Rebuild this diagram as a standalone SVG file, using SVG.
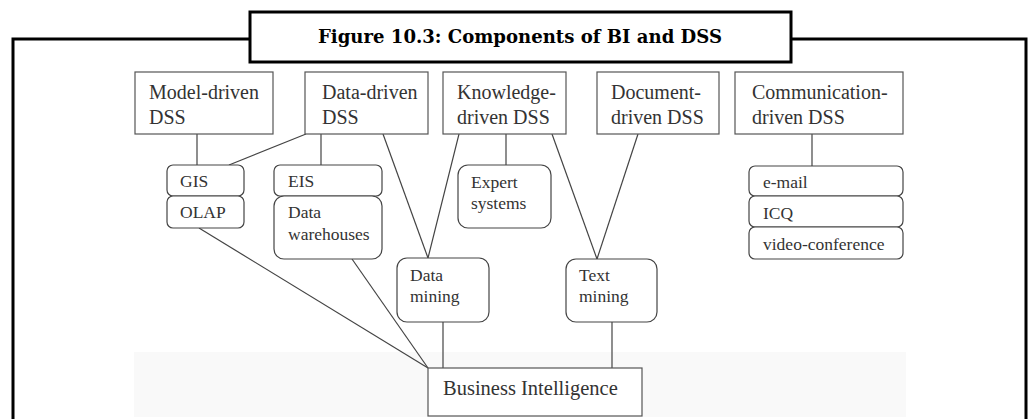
<svg xmlns="http://www.w3.org/2000/svg" width="1030" height="419" viewBox="0 0 1030 419">
<style>
.frame{fill:none;stroke:#000;stroke-width:3}
.box{fill:#fff;stroke:#555;stroke-width:1.2}
.rbox{fill:#fff;stroke:#444;stroke-width:1.2}
.t{font-family:"Liberation Serif","Times New Roman",serif;fill:#333}
.top{font-size:20px}
.sub{font-size:17.5px}
.bi{font-size:20.5px}
.title{font-family:"DejaVu Serif","Liberation Serif",serif;font-weight:bold;font-size:18px;fill:#000}
#connectors line{stroke:#444;stroke-width:1.2}
</style>
<rect x="0" y="0" width="1030" height="419" fill="#fff"/>
<rect x="134" y="352" width="772" height="65" fill="#f9f9f9"/>
<g id="frame">
<polyline class="frame" points="13,419 13,39 250,39"/>
<polyline class="frame" points="791,39 1026,39 1026,419"/>
</g>
<g id="title">
<rect class="frame" x="250" y="12" width="541" height="50" fill="#fff"/>
<text class="title" x="318" y="43" textLength="404" lengthAdjust="spacingAndGlyphs">Figure 10.3: Components of BI and DSS</text>
</g>
<g id="connectors">
<line x1="197" y1="134" x2="197" y2="165"/>
<line x1="306" y1="134" x2="229" y2="165"/>
<line x1="321" y1="134" x2="321" y2="165"/>
<line x1="383" y1="134" x2="428" y2="258"/>
<line x1="459" y1="134" x2="428" y2="258"/>
<line x1="506" y1="134" x2="506" y2="165"/>
<line x1="552" y1="134" x2="597" y2="259"/>
<line x1="638" y1="134" x2="597" y2="259"/>
<line x1="812" y1="134" x2="812" y2="166"/>
<line x1="199" y1="228" x2="428" y2="368"/>
<line x1="352" y1="259" x2="428" y2="368"/>
<line x1="443" y1="322" x2="443" y2="368"/>
<line x1="612" y1="322" x2="612" y2="368"/>
</g>
<g id="model-driven">
<rect class="box" x="135" y="72" width="138" height="62"/>
<text class="t top" x="149" y="99">Model-driven</text>
<text class="t top" x="149" y="124">DSS</text>
</g>
<g id="data-driven">
<rect class="box" x="305" y="72" width="123" height="62"/>
<text class="t top" x="322" y="99">Data-driven</text>
<text class="t top" x="322" y="124">DSS</text>
</g>
<g id="knowledge-driven">
<rect class="box" x="443" y="72" width="123" height="62"/>
<text class="t top" x="457" y="99">Knowledge-</text>
<text class="t top" x="457" y="124">driven DSS</text>
</g>
<g id="document-driven">
<rect class="box" x="597" y="72" width="122" height="62"/>
<text class="t top" x="611" y="99">Document-</text>
<text class="t top" x="611" y="124">driven DSS</text>
</g>
<g id="communication-driven">
<rect class="box" x="735" y="72" width="168" height="62"/>
<text class="t top" x="752" y="99">Communication-</text>
<text class="t top" x="752" y="124">driven DSS</text>
</g>
<g id="gis">
<rect class="rbox" x="167" y="165" width="77" height="31" rx="6"/>
<text class="t sub" x="180" y="187">GIS</text>
</g>
<g id="olap">
<rect class="rbox" x="167" y="196" width="77" height="32" rx="6"/>
<text class="t sub" x="180" y="218">OLAP</text>
</g>
<g id="eis">
<rect class="rbox" x="274" y="165" width="108" height="31" rx="6"/>
<text class="t sub" x="288" y="187">EIS</text>
</g>
<g id="data-warehouses">
<rect class="rbox" x="274" y="196" width="108" height="63" rx="10"/>
<text class="t sub" x="288" y="218">Data</text>
<text class="t sub" x="288" y="240">warehouses</text>
</g>
<g id="expert-systems">
<rect class="rbox" x="458" y="165" width="93" height="63" rx="10"/>
<text class="t sub" x="471" y="188">Expert</text>
<text class="t sub" x="471" y="209">systems</text>
</g>
<g id="e-mail">
<rect class="rbox" x="749" y="166" width="154" height="30" rx="6"/>
<text class="t sub" x="763" y="188">e-mail</text>
</g>
<g id="icq">
<rect class="rbox" x="749" y="196" width="154" height="31" rx="6"/>
<text class="t sub" x="763" y="219">ICQ</text>
</g>
<g id="video-conference">
<rect class="rbox" x="749" y="227" width="154" height="32" rx="6"/>
<text class="t sub" x="763" y="250">video-conference</text>
</g>
<g id="data-mining">
<rect class="rbox" x="397" y="258" width="92" height="64" rx="10"/>
<text class="t sub" x="410" y="281">Data</text>
<text class="t sub" x="410" y="302">mining</text>
</g>
<g id="text-mining">
<rect class="rbox" x="566" y="259" width="91" height="63" rx="10"/>
<text class="t sub" x="579" y="281">Text</text>
<text class="t sub" x="579" y="302">mining</text>
</g>
<g id="business-intelligence">
<rect class="box" x="428" y="368" width="214" height="48"/>
<text class="t bi" x="443" y="395">Business Intelligence</text>
</g>
</svg>
